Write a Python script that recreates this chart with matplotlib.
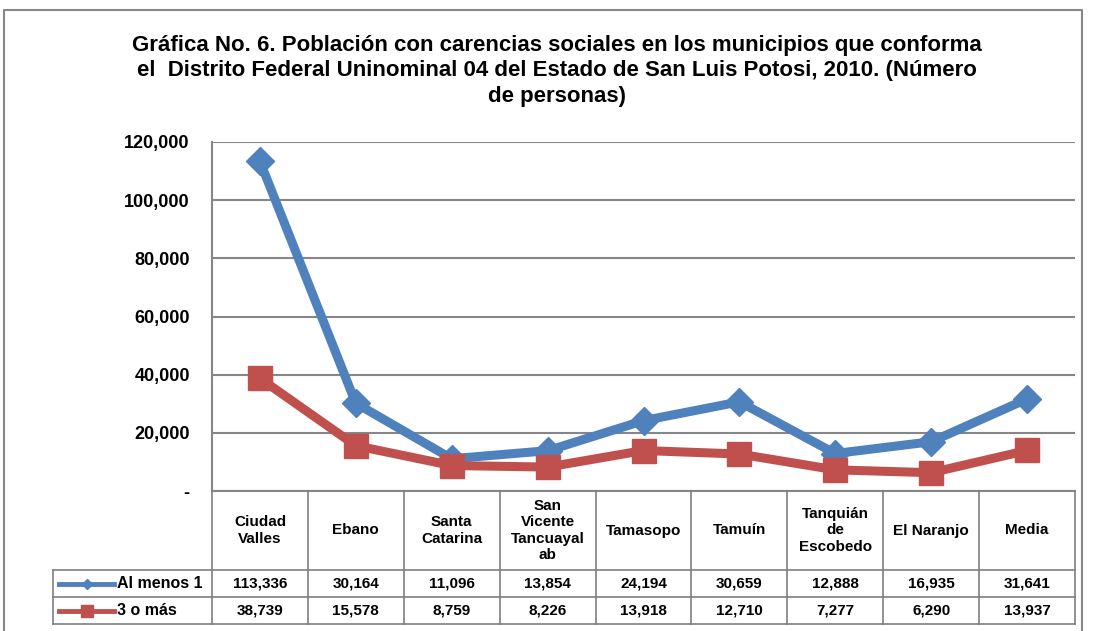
import matplotlib.pyplot as plt
from matplotlib.lines import Line2D
import numpy as np

plt.rcParams['font.family'] = ['Liberation Sans', 'DejaVu Sans']
plt.rcParams['font.weight'] = 'bold'

municipios = ['Ciudad\nValles', 'Ebano', 'Santa\nCatarina', 'San\nVicente\nTancuayal\nab',
              'Tamasopo', 'Tamuín', 'Tanquián\nde\nEscobedo', 'El Naranjo', 'Media']
al_menos_1 = [113336, 30164, 11096, 13854, 24194, 30659, 12888, 16935, 31641]
tres_o_mas = [38739, 15578, 8759, 8226, 13918, 12710, 7277, 6290, 13937]
series = [('Al menos 1', al_menos_1, '#4F81BD', 'D'),
          ('3 o más', tres_o_mas, '#C0504D', 's')]
yticks = [0, 20000, 40000, 60000, 80000, 100000, 120000]

W, H = 1093, 631
fig = plt.figure(figsize=(W / 100, H / 100), dpi=100)

def fx(x):
    return x / W

def fy(y):
    return 1 - y / H

# frame around the chart
grey = '#888888'
fig.add_artist(Line2D([fx(4), fx(4), fx(1082), fx(1082)], [fy(631), fy(10), fy(10), fy(631)],
                      transform=fig.transFigure, color=grey, lw=1.5))

left, right, top, bottom = 212, 1075, 142, 491
ax = fig.add_axes([fx(left), fy(bottom), fx(right - left), (bottom - top) / H])

x = np.arange(len(municipios))
for name, vals, col, mk in series:
    ax.plot(x, vals, color=col, lw=6.5, marker=mk,
            markersize=14 if mk == 'D' else 17, zorder=3)

ax.set_xlim(-0.5, len(municipios) - 0.5)
ax.set_ylim(0, 120000)
ax.set_yticks(yticks)
ax.set_yticklabels(['-' if v == 0 else f'{v:,}' for v in yticks], fontsize=13, fontweight='bold')
ax.tick_params(axis='y', length=0, pad=16)
ax.set_xticks([])
ax.yaxis.grid(True, color='#868686', lw=1.5)
ax.set_axisbelow(True)
for s in ['top', 'right']:
    ax.spines[s].set_visible(False)
ax.spines['left'].set_color('#868686')
ax.spines['bottom'].set_color('#868686')
ax.spines['left'].set_linewidth(1.5)
ax.spines['bottom'].set_linewidth(1.5)

fig.suptitle('Gráfica No. 6. Población con carencias sociales en los municipios que conforma\n'
             'el  Distrito Federal Uninominal 04 del Estado de San Luis Potosi, 2010. (Número\n'
             'de personas)', x=fx(557), y=fy(35), fontsize=16, fontweight='bold',
             va='top', linespacing=1.28)

# data table under the axis
row_y = [491, 570, 597, 624]
col_w = (right - left) / len(municipios)
col_x = [left + i * col_w for i in range(len(municipios) + 1)]
lc = '#7f7f7f'
leg_left = 53
for cx in col_x:
    fig.add_artist(Line2D([fx(cx), fx(cx)], [fy(row_y[0]), fy(row_y[-1])],
                          transform=fig.transFigure, color=lc, lw=1.2))
fig.add_artist(Line2D([fx(leg_left), fx(leg_left)], [fy(row_y[1]), fy(row_y[-1])],
                      transform=fig.transFigure, color=lc, lw=1.2))
for ry in row_y[1:]:
    fig.add_artist(Line2D([fx(leg_left), fx(right)], [fy(ry), fy(ry)],
                          transform=fig.transFigure, color=lc, lw=1.2))

for i, name in enumerate(municipios):
    cx = (col_x[i] + col_x[i + 1]) / 2
    fig.text(fx(cx), fy((row_y[0] + row_y[1]) / 2), name, ha='center', va='center',
             fontsize=11, fontweight='bold', linespacing=1.2)

for r, (name, vals, col, mk) in enumerate(series):
    yc = (row_y[r + 1] + row_y[r + 2]) / 2
    fig.add_artist(Line2D([fx(59), fx(87), fx(114)], [fy(yc)] * 3, transform=fig.transFigure,
                          color=col, lw=3.5, marker=mk, markersize=5 if mk == 'D' else 8,
                          markevery=[1]))
    fig.text(fx(117), fy(yc), name, ha='left', va='center', fontsize=11.5, fontweight='bold')
    for i, v in enumerate(vals):
        cx = (col_x[i] + col_x[i + 1]) / 2
        fig.text(fx(cx), fy(yc), f'{v:,}', ha='center', va='center',
                 fontsize=11, fontweight='bold')

fig.savefig('out.png', dpi=100)
